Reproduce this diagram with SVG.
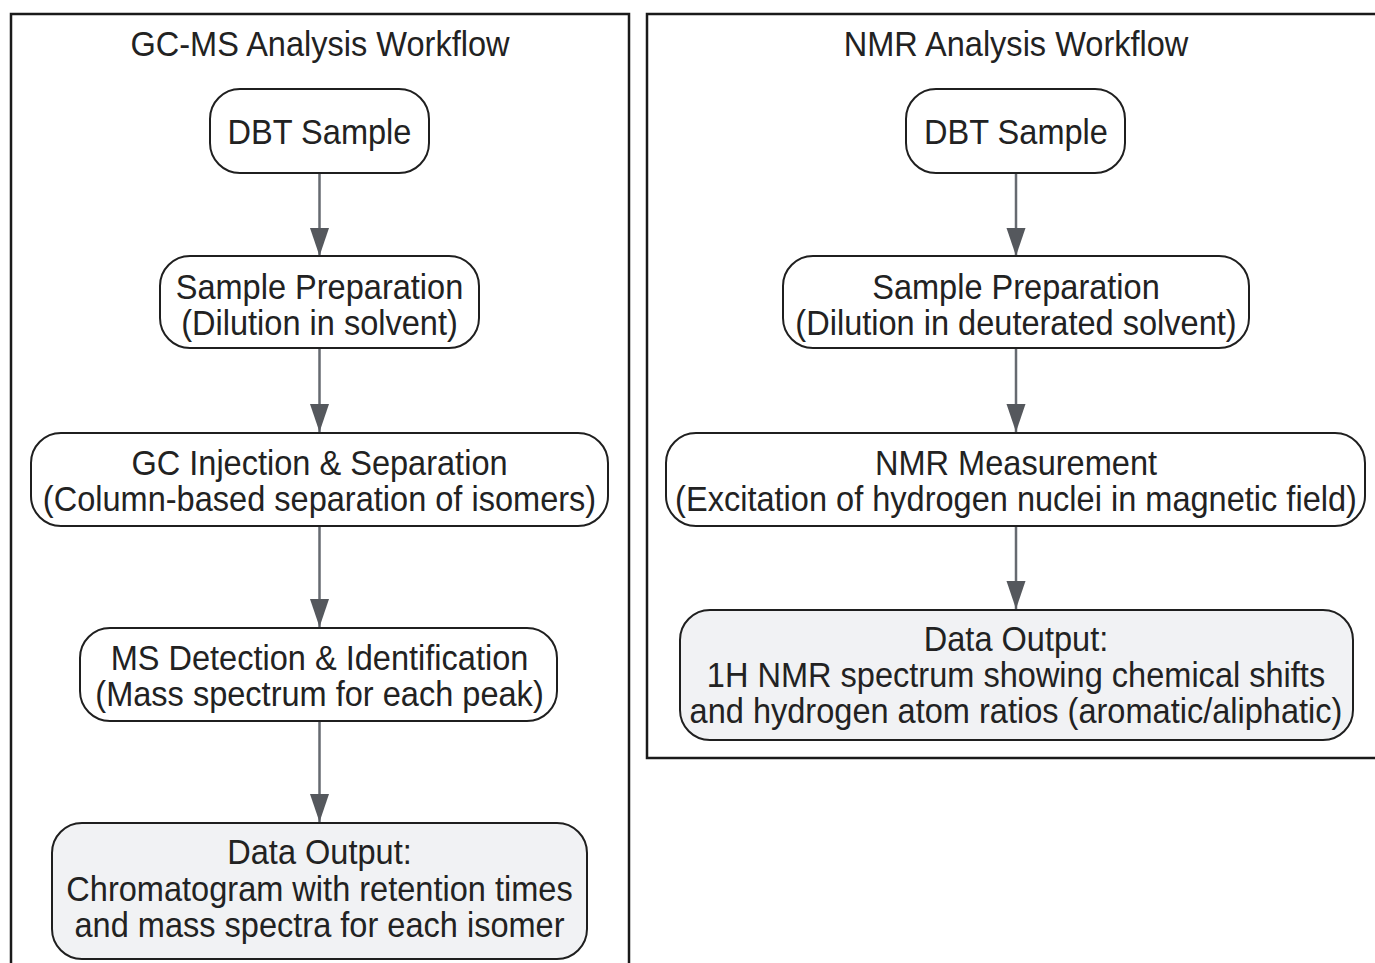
<svg xmlns="http://www.w3.org/2000/svg" width="1375" height="963" viewBox="0 0 1375 963">
<defs>
<style>
.cluster{fill:#ffffff;stroke:#1a1a1a;stroke-width:2.5}
.node{fill:#ffffff;stroke:#1f1f1f;stroke-width:2}
.out{fill:#f1f2f4;stroke:#1f1f1f;stroke-width:2}
.t{font-family:"Liberation Sans",Arial,sans-serif;font-size:35px;fill:#222;text-anchor:middle}
.edge{stroke:#666a70;stroke-width:2.5;fill:none}
</style>
<marker id="ah" markerUnits="userSpaceOnUse" markerWidth="28" markerHeight="20" viewBox="0 0 28 20" refX="28" refY="10" orient="auto">
<path d="M0,0.5 L28,10 L0,19.5 Z" fill="#55585d"/>
</marker>
</defs>
<rect width="1375" height="963" fill="#ffffff"/>
<g id="cluster-gcms">
<rect class="cluster" x="11" y="14" width="618" height="970"/>
<text class="t" transform="translate(320,0) scale(0.93,1)" x="0" y="56">GC-MS Analysis Workflow</text>
</g>
<g id="cluster-nmr">
<rect class="cluster" x="647" y="14" width="740" height="744"/>
<text class="t" transform="translate(1016,0) scale(0.93,1)" x="0" y="56">NMR Analysis Workflow</text>
</g>
<g id="connectors">
<path class="edge" d="M319.5,173 V256" marker-end="url(#ah)"/>
<path class="edge" d="M319.5,348 V432" marker-end="url(#ah)"/>
<path class="edge" d="M319.5,526 V627" marker-end="url(#ah)"/>
<path class="edge" d="M319.5,721 V822" marker-end="url(#ah)"/>
<path class="edge" d="M1016,173 V256" marker-end="url(#ah)"/>
<path class="edge" d="M1016,348 V432" marker-end="url(#ah)"/>
<path class="edge" d="M1016,526 V609" marker-end="url(#ah)"/>
</g>
<g id="gc-dbt">
<rect class="node" x="210" y="89" width="219" height="84" rx="30"/>
<text class="t" transform="translate(319.5,0) scale(0.93,1)" x="0" y="144">DBT Sample</text>
</g>
<g id="gc-prep">
<rect class="node" x="160" y="256" width="319" height="92" rx="30"/>
<text class="t" transform="translate(319.5,0) scale(0.93,1)" x="0" y="299">Sample Preparation</text>
<text class="t" transform="translate(319.5,0) scale(0.93,1)" x="0" y="335">(Dilution in solvent)</text>
</g>
<g id="gc-inj">
<rect class="node" x="31" y="433" width="577" height="93" rx="30"/>
<text class="t" transform="translate(319.5,0) scale(0.93,1)" x="0" y="475">GC Injection &amp; Separation</text>
<text class="t" transform="translate(319.5,0) scale(0.93,1)" x="0" y="511">(Column-based separation of isomers)</text>
</g>
<g id="gc-ms">
<rect class="node" x="80" y="628" width="477" height="93" rx="30"/>
<text class="t" transform="translate(319.5,0) scale(0.93,1)" x="0" y="670">MS Detection &amp; Identification</text>
<text class="t" transform="translate(319.5,0) scale(0.93,1)" x="0" y="706">(Mass spectrum for each peak)</text>
</g>
<g id="gc-out">
<rect class="out" x="52" y="823" width="535" height="136" rx="30"/>
<text class="t" transform="translate(319.5,0) scale(0.93,1)" x="0" y="864">Data Output:</text>
<text class="t" transform="translate(319.5,0) scale(0.93,1)" x="0" y="901">Chromatogram with retention times</text>
<text class="t" transform="translate(319.5,0) scale(0.93,1)" x="0" y="937">and mass spectra for each isomer</text>
</g>
<g id="nmr-dbt">
<rect class="node" x="906" y="89" width="219" height="84" rx="30"/>
<text class="t" transform="translate(1016,0) scale(0.93,1)" x="0" y="144">DBT Sample</text>
</g>
<g id="nmr-prep">
<rect class="node" x="783" y="256" width="466" height="92" rx="30"/>
<text class="t" transform="translate(1016,0) scale(0.93,1)" x="0" y="299">Sample Preparation</text>
<text class="t" transform="translate(1016,0) scale(0.93,1)" x="0" y="335">(Dilution in deuterated solvent)</text>
</g>
<g id="nmr-meas">
<rect class="node" x="666" y="433" width="699" height="93" rx="30"/>
<text class="t" transform="translate(1016,0) scale(0.93,1)" x="0" y="475">NMR Measurement</text>
<text class="t" transform="translate(1016,0) scale(0.93,1)" x="0" y="511">(Excitation of hydrogen nuclei in magnetic field)</text>
</g>
<g id="nmr-out">
<rect class="out" x="680" y="610" width="673" height="130" rx="30"/>
<text class="t" transform="translate(1016,0) scale(0.93,1)" x="0" y="651">Data Output:</text>
<text class="t" transform="translate(1016,0) scale(0.93,1)" x="0" y="687">1H NMR spectrum showing chemical shifts</text>
<text class="t" transform="translate(1016,0) scale(0.93,1)" x="0" y="723">and hydrogen atom ratios (aromatic/aliphatic)</text>
</g>
</svg>
